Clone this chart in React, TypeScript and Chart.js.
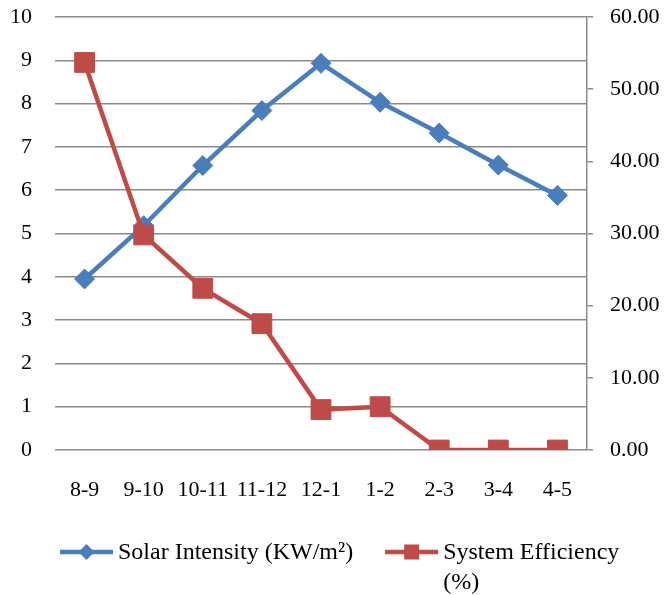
import React, { useEffect, useRef } from 'react';
import { Chart, registerables } from 'chart.js';

Chart.register(...registerables);

const categories = ['8-9', '9-10', '10-11', '11-12', '12-1', '1-2', '2-3', '3-4', '4-5'];
const solarIntensity = [3.95, 5.18, 6.57, 7.84, 8.93, 8.03, 7.32, 6.58, 5.88];
const systemEfficiency = [53.7, 29.8, 22.4, 17.5, 5.6, 6.0, 0, 0, 0];
const leftTickValues = [0, 1, 2, 3, 4, 5, 6, 7, 8, 9, 10];
const rightTickValues = [0, 10, 20, 30, 40, 50, 60];
const solarLabel = ['Solar Intensity (KW/m²)'];
const efficiencyLabel = ['System Efficiency', '(%)'];

const BLUE = '#4a7ebb';
const RED = '#be4b48';
const GRID = '#8a8a8a';
const FONT = "'Liberation Serif', 'Times New Roman', serif";

const legendPlugin = {
  id: 'lineLegend',
  afterDraw(chart: any) {
    const ctx = chart.ctx as CanvasRenderingContext2D;
    const datasets = chart.data.datasets;
    ctx.save();
    ctx.font = `24px ${FONT}`;
    ctx.textBaseline = 'middle';
    ctx.textAlign = 'left';
    const lineLen = 53;
    const y0 = 552;
    const lineH = 30;
    let x = 60;
    const order = [0, 1];
    order.forEach((i) => {
      const ds = datasets[i];
      const color = ds.borderColor;
      ctx.strokeStyle = color;
      ctx.fillStyle = color;
      ctx.lineWidth = 4.5;
      ctx.beginPath();
      ctx.moveTo(x, y0);
      ctx.lineTo(x + lineLen, y0);
      ctx.stroke();
      const cx = x + lineLen / 2;
      if (ds.pointStyle === 'rectRot') {
        const r = 8;
        ctx.beginPath();
        ctx.moveTo(cx - r, y0);
        ctx.lineTo(cx, y0 - r);
        ctx.lineTo(cx + r, y0);
        ctx.lineTo(cx, y0 + r);
        ctx.closePath();
        ctx.fill();
      } else {
        const s = 7.5;
        ctx.fillRect(cx - s, y0 - s, 2 * s, 2 * s);
      }
      const lines: string[] = Array.isArray(ds.label) ? ds.label : [ds.label];
      const tx = x + lineLen + 5;
      ctx.fillStyle = '#000';
      let maxW = 0;
      lines.forEach((t, li) => {
        ctx.fillText(t, tx, y0 + 1 + li * lineH);
        maxW = Math.max(maxW, ctx.measureText(t).width);
      });
      x = tx + maxW + 32;
    });
    ctx.restore();
  },
};

export default function App() {
  const canvasRef = useRef<HTMLCanvasElement | null>(null);

  useEffect(() => {
    if (!canvasRef.current) return;
    const chart = new Chart(canvasRef.current, {
      type: 'line',
      data: {
        labels: categories,
        datasets: [
          {
            label: solarLabel as any,
            data: solarIntensity,
            yAxisID: 'y',
            borderColor: BLUE,
            backgroundColor: BLUE,
            borderWidth: 4.5,
            pointStyle: 'rectRot',
            pointRadius: 10,
            pointBackgroundColor: BLUE,
            pointBorderColor: BLUE,
            pointBorderWidth: 1,
            tension: 0,
            order: 1,
          },
          {
            label: efficiencyLabel as any,
            data: systemEfficiency,
            yAxisID: 'y1',
            borderColor: RED,
            backgroundColor: RED,
            borderWidth: 4.5,
            pointStyle: 'rect',
            pointRadius: 14,
            pointBackgroundColor: RED,
            pointBorderColor: RED,
            pointBorderWidth: 1,
            tension: 0,
            order: 0,
          },
        ],
      },
      options: {
        responsive: false,
        animation: false,
        devicePixelRatio: 1,
        layout: { autoPadding: false, padding: { top: 17, bottom: 75, left: 0, right: 0 } },
        plugins: {
          legend: { display: false },
          tooltip: { enabled: false },
        },
        scales: {
          x: {
            offset: true,
            grid: { display: false, drawTicks: false },
            border: { display: false },
            ticks: {
              color: '#000',
              font: { family: FONT, size: 22 },
              padding: 27,
              maxRotation: 0,
              autoSkip: false,
            },
            afterFit: (scale: any) => {
              scale.height = 70;
              scale.paddingLeft = 0;
              scale.paddingRight = 0;
            },
          },
          y: {
            position: 'left',
            min: 0,
            max: 10,
            afterBuildTicks: (scale: any) => {
              scale.ticks = leftTickValues.map((v) => ({ value: v }));
            },
            grid: { color: GRID, lineWidth: 1.5, drawTicks: false },
            border: { display: false },
            ticks: {
              color: '#000',
              font: { family: FONT, size: 22 },
              padding: 23,
            },
            afterFit: (scale: any) => {
              scale.width = 55;
              scale.paddingTop = 0;
              scale.paddingBottom = 0;
            },
          },
          y1: {
            position: 'right',
            min: 0,
            max: 60,
            afterBuildTicks: (scale: any) => {
              scale.ticks = rightTickValues.map((v) => ({ value: v }));
            },
            grid: {
              drawOnChartArea: false,
              drawTicks: true,
              tickLength: 6,
              color: GRID,
              lineWidth: 1.5,
            },
            border: { display: true, color: GRID, width: 1.5 },
            ticks: {
              color: '#000',
              font: { family: FONT, size: 22 },
              padding: 17,
              callback: (v: any) => Number(v).toFixed(2),
            },
            afterFit: (scale: any) => {
              scale.width = 78;
              scale.paddingTop = 0;
              scale.paddingBottom = 0;
            },
          },
        },
      },
      plugins: [legendPlugin],
    });
    return () => chart.destroy();
  }, []);

  return (
    <div style={{ position: 'absolute', left: 0, top: 0, width: 665, height: 595, background: '#fff' }}>
      <canvas ref={canvasRef} width={665} height={595} style={{ display: 'block' }} />
    </div>
  );
}
